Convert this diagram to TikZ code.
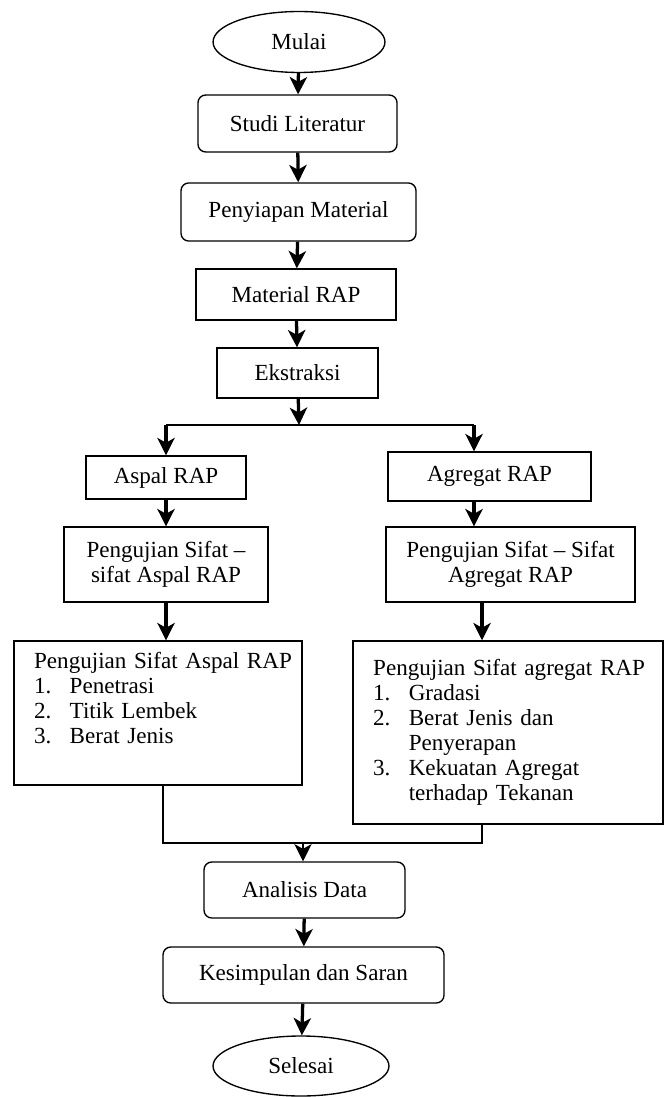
\documentclass[tikz,border=0pt]{standalone}
\usepackage{fontspec}
\setmainfont{Liberation Serif}
\usetikzlibrary{arrows.meta,shapes.geometric}

\begin{document}
\begin{tikzpicture}[x=0.52pt,y=-0.52pt,
    base/.style={draw,line width=0.7pt,align=center,font=\fontsize{12}{13}\selectfont,inner sep=2pt},
    box/.style={base},
    rbox/.style={base,rounded corners=4pt},
    term/.style={base,ellipse,inner sep=0pt},
    listbox/.style={base,align=left,inner xsep=10.5pt},
    arrow/.style={-{Stealth[length=9pt,width=9pt,inset=2.5pt]},line width=1.7pt},
    link/.style={line width=0.7pt}
  ]
    \useasboundingbox (0,0) rectangle (666,1097);
    \node[term,minimum width=89.4pt,minimum height=31.7pt] (mulai) at (299,42) {Mulai};
    \node[rbox,minimum width=103.5pt,minimum height=29.6pt] (studi) at (297.5,123.5) {Studi Literatur};
    \node[rbox,minimum width=122.2pt,minimum height=30.2pt] (siap) at (298.5,212) {Penyiapan Material};
    \node[box,minimum width=104pt,minimum height=26.5pt] (rap) at (296,294.5) {Material RAP};
    \node[box,minimum width=83.7pt,minimum height=26pt] (ekstr) at (297.5,373) {Ekstraksi};
    \node[box,minimum width=83.2pt,minimum height=22.4pt] (aspal) at (166,477.5) {Aspal RAP};
    \node[box,minimum width=105.6pt,minimum height=25.5pt] (agregat) at (489.5,476.5) {Agregat RAP};
    \node[box,minimum width=106.1pt,minimum height=39pt] (ujiaspal) at (166,564.5) {Pengujian Sifat --\\sifat Aspal RAP};
    \node[box,minimum width=129.5pt,minimum height=39pt] (ujiagr) at (510.5,564.5) {Pengujian Sifat -- Sifat\\Agregat RAP};
    \node[listbox,text width=128.8pt,minimum height=74.9pt] (listaspal) at (158,713) {%
      \begin{tabular}{@{}p{18.5pt}@{}l@{}}
        \multicolumn{2}{@{}l@{}}{Pengujian Sifat Aspal RAP}\\
        1. & Penetrasi\\
        2. & Titik Lembek\\
        3. & Berat Jenis\\
        & \\
      \end{tabular}};
    \node[listbox,text width=140.2pt,minimum height=95.2pt] (listagr) at (508,732.5) {%
      \begin{tabular}{@{}p{18.5pt}@{}l@{}}
        \multicolumn{2}{@{}l@{}}{Pengujian Sifat agregat RAP}\\
        1. & Gradasi\\
        2. & Berat Jenis dan\\
        & Penyerapan\\
        3. & Kekuatan Agregat\\
        & terhadap Tekanan\\
      \end{tabular}};
    \node[rbox,minimum width=104.5pt,minimum height=29.1pt] (analisis) at (304.5,890) {Analisis Data};
    \node[rbox,minimum width=146.1pt,minimum height=29.1pt] (simpul) at (303.5,975) {Kesimpulan dan Saran};
    \node[term,minimum width=91.5pt,minimum height=31.2pt] (selesai) at (301,1066) {Selesai};
    % split and join points
    \coordinate (splitL) at (166,425);
    \coordinate (split) at (299,425);
    \coordinate (splitR) at (474,425);
    \coordinate (joinL) at (163,843);
    \coordinate (join) at (303,843);
    \coordinate (joinR) at (482,843);
    \draw[arrow] (mulai) -- (studi);
    \draw[arrow] (studi) -- (siap);
    \draw[arrow] (siap) -- (rap);
    \draw[arrow] (rap) -- (ekstr);
    \draw[arrow] (ekstr) -- (split);
    \draw[link] (splitL) -- (splitR);
    \draw[arrow] (splitL) -- (aspal);
    \draw[arrow] (splitR) -- (splitR |- agregat.north);
    \draw[arrow] (aspal) -- (ujiaspal);
    \draw[arrow] (agregat.south -| splitR) -- (ujiagr.north -| splitR);
    \draw[arrow] (ujiaspal.south) -- (ujiaspal.south |- listaspal.north);
    \draw[arrow] (ujiagr.south -| joinR) -- (listagr.north -| joinR);
    \draw[link] (listaspal.south -| joinL) -- (joinL) -- (joinR) -- (listagr.south -| joinR);
    \draw[arrow,line width=0.7pt] (join) -- (join |- analisis.north);
    \draw[arrow] (analisis) -- (simpul);
    \draw[arrow] (simpul) -- (selesai);
  \end{tikzpicture}
\end{document}
